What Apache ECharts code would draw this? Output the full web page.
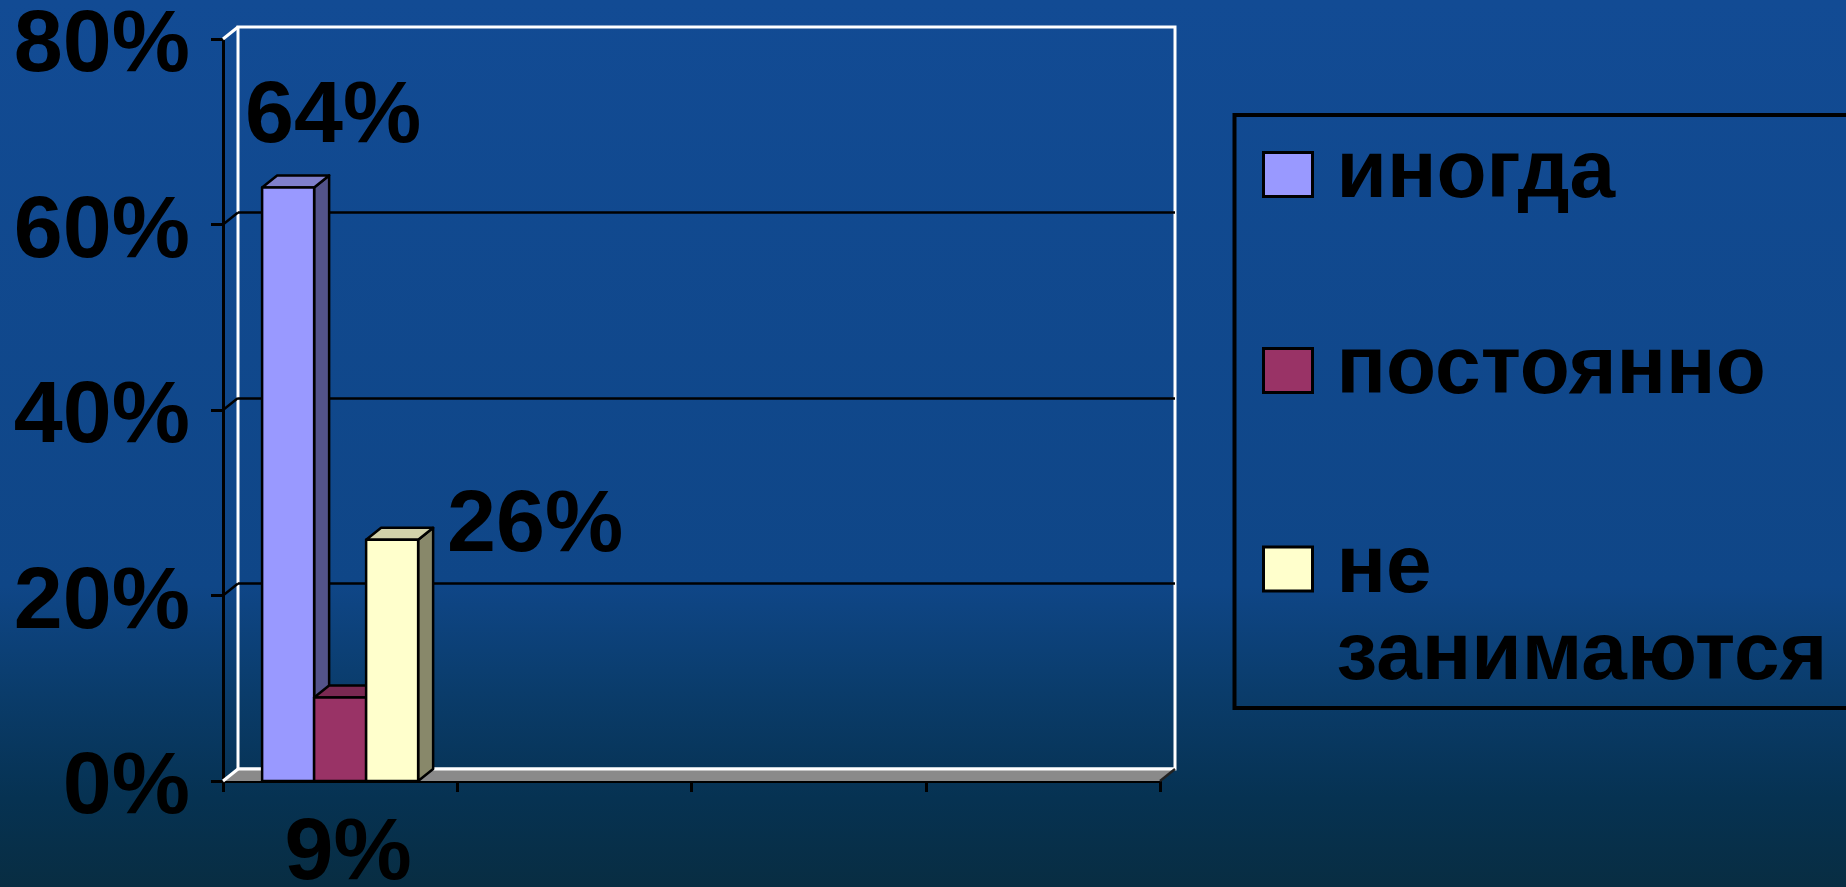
<!DOCTYPE html>
<html>
<head>
<meta charset="utf-8">
<script src="https://cdn.jsdelivr.net/npm/echarts@6/dist/echarts.min.js"></script>
<style>
html,body{margin:0;padding:0;width:100%;height:100%;overflow:hidden;background:#0f4687;}
#c{width:1846px;height:887px;}
</style>
</head>
<body>
<div id="c"></div>
<script>
// ---- data ----
const categories = ['1', '2', '3', '4'];
const seriesNames = ['иногда', 'постоянно', 'не занимаются'];
const inogda = [64];
const postoyanno = [9];
const neZanimayutsya = [26];
const yMin = 0, yMax = 80, yInterval = 20;
const yTickValues = [0, 20, 40, 60, 80];

// ---- style ----
const FONT = '"Liberation Sans", Arial, sans-serif';
const DX = 15, DY = -12;            // 3D depth offset
const FRONT = { left: 223, top: 39, width: 937, height: 742 };
const BACK = { left: FRONT.left + DX, top: FRONT.top + DY, width: FRONT.width, height: FRONT.height };
const BAR_FRAC = 0.222;
const faceColors = ['#9999ff', '#993366', '#ffffcc'];
const sideColors = ['#53538a', '#5a1d3c', '#88886a'];
const topColors  = ['#8080cc', '#7a2952', '#d2d2aa'];
const labelPlace = [
  { anchor: 'top', dx: 45, dy: -70 },
  { anchor: 'base', dx: 8, dy: 74 },
  { anchor: 'top', dx: 143, dy: -13 }
];
const seriesData = [inogda, postoyanno, neZanimayutsya];

function barRender(idx) {
  return function (params, api) {
    const cat = api.value(0), val = api.value(1);
    const pTop = api.coord([cat, val]);
    const pBase = api.coord([cat, 0]);
    const band = api.size([1, 0])[0];
    const w = band * BAR_FRAC;
    const cx = pTop[0] + (idx - 1) * w;
    const x0 = cx - w / 2, x1 = cx + w / 2;
    const yt = pTop[1], yb = pBase[1];
    const stroke = { stroke: '#000', lineWidth: 2.5, lineJoin: 'round' };
    const lp = labelPlace[idx];
    const ly = lp.anchor === 'top' ? yt + lp.dy : yb + lp.dy;
    return {
      type: 'group',
      children: [
        { type: 'polygon', shape: { points: [[x1, yb], [x1, yt], [x1 + DX, yt + DY], [x1 + DX, yb + DY]] },
          style: Object.assign({ fill: sideColors[idx] }, stroke) },
        { type: 'polygon', shape: { points: [[x0, yt], [x1, yt], [x1 + DX, yt + DY], [x0 + DX, yt + DY]] },
          style: Object.assign({ fill: topColors[idx] }, stroke) },
        { type: 'rect', shape: { x: x0, y: yt, width: w, height: yb - yt },
          style: Object.assign({ fill: faceColors[idx] }, stroke) },
        { type: 'text', x: cx + lp.dx, y: ly,
          style: { text: val + '%', fill: '#000', font: 'bold 88px ' + FONT, align: 'center', verticalAlign: 'middle' } }
      ]
    };
  };
}

function frameRender(params, api) {
  const cs = params.coordSys;
  const x0 = cs.x, x1 = cs.x + cs.width, yt = cs.y, yb = cs.y + cs.height;
  const ch = [];
  ch.push({ type: 'polygon', shape: { points: [[x0, yb], [x0 + DX, yb + DY], [x1 + DX, yb + DY], [x1, yb]] },
            style: { fill: '#8a8a8a' } });
  ch.push({ type: 'line', shape: { x1: x0 + DX, y1: yb + DY, x2: x1 + DX, y2: yb + DY }, style: { stroke: '#fff', lineWidth: 3 } });
  ch.push({ type: 'line', shape: { x1: x0, y1: yb, x2: x0 + DX, y2: yb + DY }, style: { stroke: '#fff', lineWidth: 3 } });
  ch.push({ type: 'line', shape: { x1: x0, y1: yt, x2: x0 + DX, y2: yt + DY }, style: { stroke: '#fff', lineWidth: 3 } });
  ch.push({ type: 'line', shape: { x1: x1, y1: yb, x2: x1 + DX, y2: yb + DY }, style: { stroke: '#222', lineWidth: 2.5 } });
  yTickValues.slice(1, -1).forEach(v => {
    const y = api.coord([0, v])[1];
    ch.push({ type: 'line', shape: { x1: x0, y1: y, x2: x0 + DX, y2: y + DY }, style: { stroke: '#000', lineWidth: 2.5 } });
  });
  return { type: 'group', children: ch };
}

// legend: first line of a multi-word label sits beside the swatch
function legendText(name) {
  return name.indexOf(' ') >= 0 ? ' \n' + name.replace(' ', '\n') : name;
}
const legendTops = [133.5, 329.5, 438.5];
const legends = seriesNames.map((n, i) => ({
  data: [n],
  orient: 'vertical',
  left: 1262,
  top: legendTops[i],
  padding: 0,
  selectedMode: false,
  icon: 'rect',
  itemWidth: 49,
  itemHeight: 44,
  itemStyle: { borderColor: '#000', borderWidth: 3 },
  formatter: legendText,
  textStyle: {
    color: '#000', fontSize: 82, fontWeight: 'bold', fontFamily: FONT,
    lineHeight: n.indexOf(' ') >= 0 ? 87 : 44,
    padding: [0, 0, 0, 19]
  }
}));

const chart = echarts.init(document.getElementById('c'), null, { renderer: 'canvas' });
chart.setOption({
  animation: false,
  backgroundColor: {
    type: 'linear', x: 0, y: 0, x2: 0, y2: 1,
    colorStops: [
      { offset: 0, color: '#124b94' },
      { offset: 0.66, color: '#0f4687' },
      { offset: 0.78, color: '#0a3c6b' },
      { offset: 0.9, color: '#063252' },
      { offset: 1, color: '#082d42' }
    ]
  },
  legend: legends,
  graphic: [{
    type: 'rect', left: 1232, top: 112.5, z: 0,
    shape: { width: 700, height: 593 },
    style: { fill: 'none', stroke: '#000', lineWidth: 4 }
  }],
  grid: [
    Object.assign({ show: false }, FRONT),
    Object.assign({ show: true, borderColor: '#fff', borderWidth: 3, backgroundColor: 'transparent' }, BACK)
  ],
  xAxis: [
    { type: 'category', data: categories, gridIndex: 0, boundaryGap: true,
      axisLine: { show: true, lineStyle: { color: '#000', width: 3 } },
      axisTick: { show: true, length: 11, lineStyle: { color: '#000', width: 3 } },
      axisLabel: { show: false }, splitLine: { show: false } },
    { type: 'category', data: categories, gridIndex: 1, show: false }
  ],
  yAxis: [
    { type: 'value', gridIndex: 0, min: yMin, max: yMax, interval: yInterval,
      axisLine: { show: true, lineStyle: { color: '#000', width: 3 } },
      axisTick: { show: true, length: 12, lineStyle: { color: '#000', width: 3 } },
      axisLabel: { formatter: '{value}%', color: '#000', fontSize: 88, fontWeight: 'bold', fontFamily: FONT,
                   margin: 33, verticalAlign: 'top', lineHeight: 16 },
      splitLine: { show: false } },
    { type: 'value', gridIndex: 1, min: yMin, max: yMax, interval: yInterval,
      axisLine: { show: false }, axisTick: { show: false }, axisLabel: { show: false },
      splitLine: { show: true, showMinLine: false, showMaxLine: false, lineStyle: { color: '#000', width: 2.5 } } }
  ],
  series: [
    { type: 'custom', name: '__frame', xAxisIndex: 0, yAxisIndex: 0, silent: true, z: 1,
      data: [[0, 0]], renderItem: frameRender }
  ].concat(seriesNames.map((n, i) => ({
    type: 'custom', name: n, xAxisIndex: 0, yAxisIndex: 0, z: 2 + i,
    itemStyle: { color: faceColors[i] },
    data: seriesData[i].map((v, k) => [k, v]),
    renderItem: barRender(i)
  })))
});
</script>
</body>
</html>
